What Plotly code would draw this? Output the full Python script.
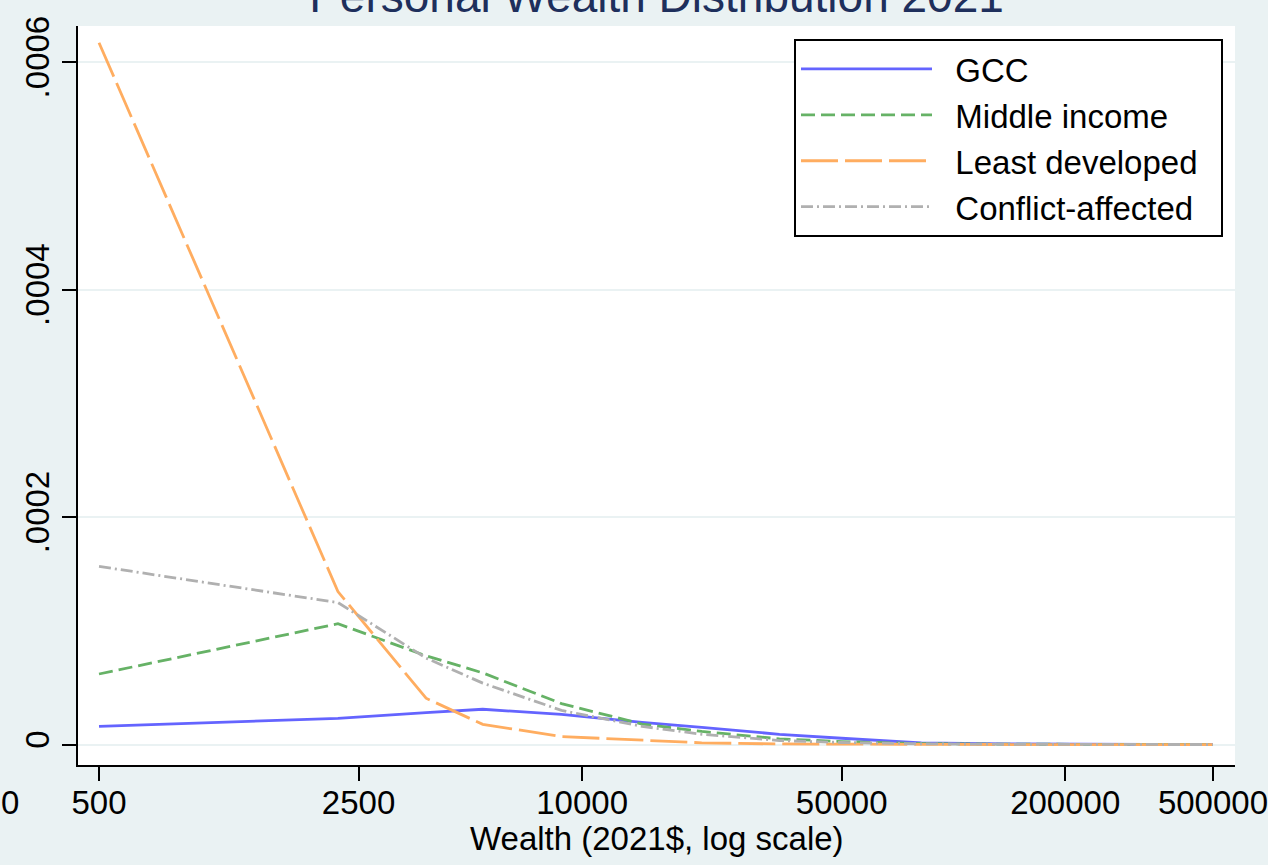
import plotly.graph_objects as go

# ---- data ----
wealth = [500, 2200, 3800, 5400, 8800, 14500, 21000, 34000, 50000, 82000, 140000, 200000, 500000]
gcc = [1.6e-5, 2.3e-5, 2.8e-5, 3.1e-5, 2.65e-5, 1.95e-5, 1.5e-5, 9e-6, 5.5e-6, 1.5e-6, 6e-7, 3e-7, 0]
middle_income = [6.2e-5, 1.062e-4, 7.8e-5, 6.3e-5, 3.6e-5, 1.8e-5, 1.15e-5, 5e-6, 2.6e-6, 8e-7, 3e-7, 1e-7, 0]
least_developed = [6.17e-4, 1.345e-4, 4.07e-5, 1.77e-5, 7e-6, 3.5e-6, 1.5e-6, 5e-7, 2e-7, 1e-7, 0, 0, 0]
conflict_affected = [1.566e-4, 1.248e-4, 7.6e-5, 5.4e-5, 3.0e-5, 1.6e-5, 9e-6, 3.5e-6, 1.8e-6, 6e-7, 2e-7, 1e-7, 0]

series_names = ["GCC", "Middle income", "Least developed", "Conflict-affected"]
x_tickvals = [500, 2500, 10000, 50000, 200000, 500000]
x_ticktext = ["500", "2500", "10000", "50000", "200000", "500000"]
y_tickvals = [0, 0.0002, 0.0004, 0.0006]
y_ticktext = ["0", ".0002", ".0004", ".0006"]

FONT = "Liberation Sans, Arial, sans-serif"
BG = "#EAF2F3"
NB = "\u00a0\u00a0"

styles = [
    dict(color="#6464FF", dash="solid"),
    dict(color="#66B266", dash="14px,6px"),
    dict(color="#FFAD60", dash="37px,7px"),
    dict(color="#B0B0B0", dash="12px,4px,2px,4px"),
]

fig = go.Figure()
for name, ys, st in zip(series_names, [gcc, middle_income, least_developed, conflict_affected], styles):
    fig.add_trace(go.Scatter(
        x=wealth, y=ys, mode="lines", name=NB + name + NB,
        line=dict(color=st["color"], dash=st["dash"], width=2.8),
    ))

fig.update_layout(
    width=1268, height=865,
    paper_bgcolor=BG, plot_bgcolor="white",
    margin=dict(l=78, r=33, t=26, b=100, autoexpand=False),
    font=dict(family=FONT, size=33, color="black"),
    title=dict(
        text="Personal Wealth Distribution 2021",
        font=dict(family=FONT, size=46, color="#1E2F5C"),
        x=0.5, xanchor="center", xref="paper",
        y=1 - 12 / 865, yanchor="bottom", yref="container",
    ),
    showlegend=True,
    legend=dict(
        x=(794 - 78) / 1157, y=1 - (39 - 26) / 739, xanchor="left", yanchor="top",
        bgcolor="white", bordercolor="black", borderwidth=2,
        font=dict(family=FONT, size=33, color="black"),
        itemwidth=131, tracegroupgap=0,
    ),
    xaxis=dict(
        type="log", range=[2.6424, 5.7583], automargin=False,
        tickvals=x_tickvals, ticktext=x_ticktext,
        showgrid=False, zeroline=False,
        showline=True, linecolor="black", linewidth=2,
        ticks="outside", ticklen=14, tickwidth=2, tickcolor="black",
        tickfont=dict(size=33), ticklabeloverflow="allow", ticklabelstandoff=-7,
    ),
    yaxis=dict(
        range=[-1.8e-5, 6.317e-4], automargin=False,
        tickvals=y_tickvals, ticktext=y_ticktext,
        tickangle=-90,
        showgrid=True, gridcolor=BG, gridwidth=2,
        zeroline=False,
        showline=True, linecolor="black", linewidth=2,
        ticks="outside", ticklen=14, tickwidth=2, tickcolor="black",
        tickfont=dict(size=33), ticklabeloverflow="allow",
    ),
)

fig.add_annotation(
    text="0", xref="paper", yref="paper", x=(10 - 78) / 1157, y=-(803 - 765) / 739,
    xanchor="center", yanchor="middle", showarrow=False, font=dict(size=33, color="black"),
)
fig.add_annotation(
    text="Wealth (2021$, log scale)", xref="paper", yref="paper", x=0.5, y=-(838 - 765) / 739,
    xanchor="center", yanchor="middle", showarrow=False, font=dict(size=33, color="black"),
)

fig.write_html(
    "out.html",
    config={"displayModeBar": False},
    post_script="document.body.style.margin='0';document.body.style.overflow='hidden';",
)
